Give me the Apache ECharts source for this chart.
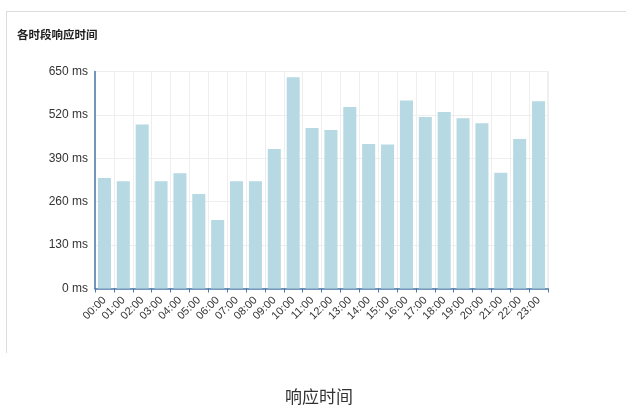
<!DOCTYPE html>
<html>
<head>
<meta charset="utf-8">
<script src="https://cdn.jsdelivr.net/npm/echarts@6/dist/echarts.min.js"></script>
<style>
  html, body { margin: 0; padding: 0; background: #fff; }
  #chart { width: 626px; height: 412px; }
</style>
</head>
<body>
<div id="chart"></div>
<script>
// Hourly response time (ms)
const hours = ['00:00','01:00','02:00','03:00','04:00','05:00','06:00','07:00','08:00','09:00','10:00','11:00',
               '12:00','13:00','14:00','15:00','16:00','17:00','18:00','19:00','20:00','21:00','22:00','23:00'];
const responseMs = [331, 321, 491, 321, 345, 283, 205, 321, 321, 418, 633, 481,
                    475, 544, 433, 431, 563, 514, 529, 510, 495, 347, 448, 561];
const yTicks = { min: 0, max: 650, step: 130 };

const latin = '"Liberation Sans", "Noto Sans CJK SC", sans-serif';
const cjk = '"Noto Sans CJK SC", sans-serif';
const axisBlue = '#4a78a6';

const chart = echarts.init(document.getElementById('chart'), null, { renderer: 'canvas' });
chart.setOption({
  animation: false,
  backgroundColor: '#fff',
  title: [
    {
      text: '各时段响应时间',
      left: 17, top: 29, padding: 0,
      textStyle: { fontSize: 11.5, fontWeight: 'bold', color: '#222', fontFamily: cjk }
    },
    {
      text: '响应时间',
      left: 285, top: 388, padding: 0,
      textStyle: { fontSize: 17, fontWeight: 'normal', color: '#333', fontFamily: cjk }
    }
  ],
  graphic: [
    { type: 'line', shape: { x1: 6, y1: 11.5, x2: 626, y2: 11.5 }, style: { stroke: '#dcdcdc', lineWidth: 1 } },
    { type: 'line', shape: { x1: 6.5, y1: 11, x2: 6.5, y2: 353 }, style: { stroke: '#dcdcdc', lineWidth: 1 } }
  ],
  grid: {
    left: 95, right: 78, top: 71.5, bottom: 123.5,
    show: true, borderColor: '#e2e2e2', borderWidth: 1
  },
  xAxis: {
    type: 'category',
    data: hours,
    axisLine: { lineStyle: { color: axisBlue, width: 1.5 } },
    axisTick: { show: true, length: 4, lineStyle: { color: axisBlue } },
    axisLabel: { rotate: 45, interval: 0, fontSize: 11, color: '#333', fontFamily: latin, margin: 10 },
    splitLine: { show: true, interval: 0, lineStyle: { color: '#eeeeee' } }
  },
  yAxis: {
    type: 'value',
    min: yTicks.min, max: yTicks.max, interval: yTicks.step,
    axisLine: { show: true, lineStyle: { color: axisBlue, width: 1.5 } },
    axisTick: { show: false },
    axisLabel: { formatter: '{value} ms', fontSize: 12, color: '#333', fontFamily: latin, margin: 7 },
    splitLine: { show: true, lineStyle: { color: '#eeeeee' } }
  },
  series: [{
    type: 'bar',
    data: responseMs,
    barCategoryGap: '31%',
    itemStyle: { color: '#b6d9e3' }
  }]
});
</script>
</body>
</html>
